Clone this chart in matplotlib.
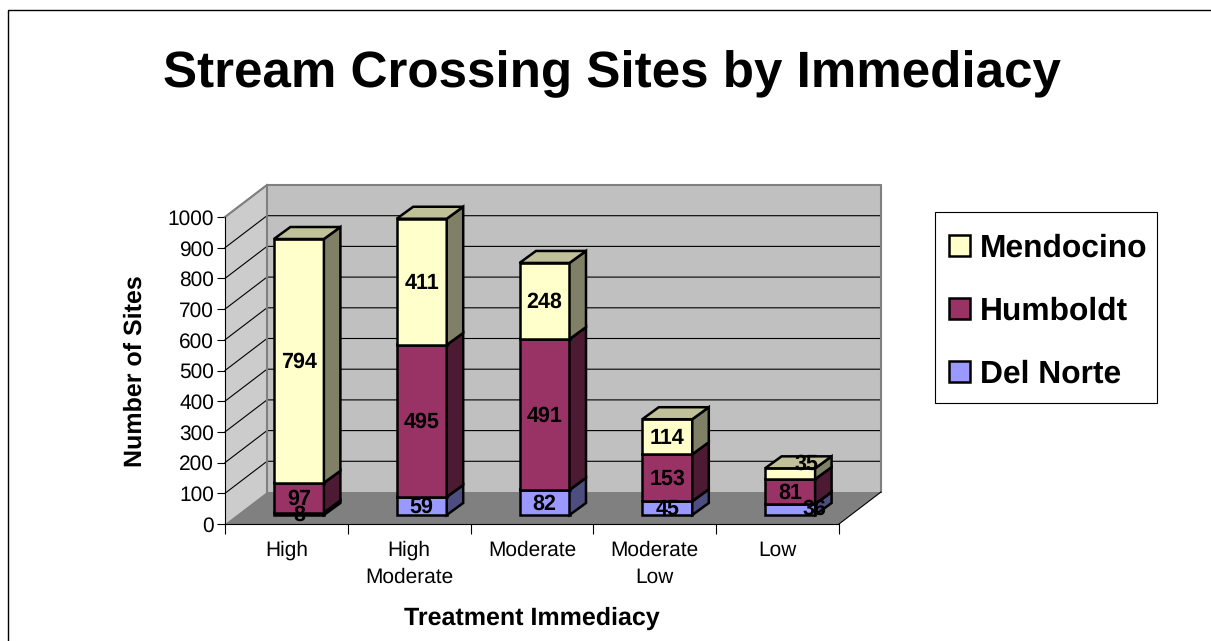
import matplotlib
matplotlib.use("Agg")
import matplotlib.pyplot as plt
from matplotlib.patches import Polygon, Rectangle

plt.rcParams['font.family'] = ['Liberation Sans', 'DejaVu Sans']
plt.rcParams['text.hinting'] = 'no_hinting'

categories = ["High", "High\nModerate", "Moderate", "Moderate\nLow", "Low"]
del_norte = [8, 59, 82, 45, 36]
humboldt = [97, 495, 491, 153, 81]
mendocino = [794, 411, 248, 114, 35]

series = [("Del Norte", del_norte, "#9999FF", "#4D4D80"),
          ("Humboldt", humboldt, "#993366", "#4D1A33"),
          ("Mendocino", mendocino, "#FFFFCC", "#808066")]
top_color = "#C0C099"

# pixel sizes of the fake 3d box, turned into data units below
W, H = 1211, 641
ax_left, ax_right, ax_top, ax_bottom = 225, 839, 217, 524
px_x = (ax_right - ax_left) / 5
px_y = (ax_bottom - ax_top) / 1000
wall_dx, wall_dy = 42 / px_x, 32 / px_y
front_dx, front_dy = 12.5 / px_x, 9 / px_y
depth_dx, depth_dy = 16.5 / px_x, 12 / px_y
bar_w = 50 / px_x
edge = 1.8

fig = plt.figure(figsize=(W / 100, H / 100), dpi=100)
ax = fig.add_axes([ax_left / W, 1 - ax_bottom / H, (ax_right - ax_left) / W, (ax_bottom - ax_top) / H])
ax.set_xlim(0, 5)
ax.set_ylim(0, 1000)
ax.patch.set_visible(False)

# page border, runs off the top right of the picture
fig.add_artist(Rectangle((8 / W, -0.1), 1.1, 1 - 10 / H + 0.1, transform=fig.transFigure,
                         fill=False, edgecolor="black", linewidth=1))


def poly(points, fc, ec, lw, z):
    ax.add_patch(Polygon(points, closed=True, facecolor=fc, edgecolor=ec, linewidth=lw,
                         zorder=z, clip_on=False, joinstyle="miter"))


# walls and floor
poly([(wall_dx, wall_dy), (5 + wall_dx, wall_dy), (5 + wall_dx, 1000 + wall_dy), (wall_dx, 1000 + wall_dy)],
     "#C0C0C0", "none", 0, 1)
poly([(0, 0), (0, 1000), (wall_dx, 1000 + wall_dy), (wall_dx, wall_dy)], "#CCCCCC", "none", 0, 1)
poly([(0, 0), (5, 0), (5 + wall_dx, wall_dy), (wall_dx, wall_dy)], "#808080", "none", 0, 1.5)

yticks = list(range(0, 1001, 100))
for v in yticks[1:]:
    ax.plot([0, wall_dx, 5 + wall_dx], [v, v + wall_dy, v + wall_dy], color="black", lw=0.8,
            zorder=1.2, clip_on=False)
ax.plot([5, 5 + wall_dx], [0, wall_dy], color="black", lw=0.8, zorder=1.6, clip_on=False)
ax.plot([0, wall_dx], [1000, 1000 + wall_dy], color="#808080", lw=1.5, zorder=1.6, clip_on=False)
ax.plot([wall_dx, wall_dx, 5 + wall_dx, 5 + wall_dx], [wall_dy, 1000 + wall_dy, 1000 + wall_dy, wall_dy],
        color="#808080", lw=1.5, zorder=1.3, clip_on=False)

# stacked columns, bottom segment first, bars left to right
handles = []
totals = [0] * len(categories)
for s, (name, vals, color, dark) in enumerate(series):
    xs = [i + 0.5 + front_dx for i in range(len(categories))]
    bottoms = [front_dy + t for t in totals]
    bars = ax.bar(xs, vals, bar_w, bottom=bottoms, color=color, edgecolor="black", linewidth=edge,
                  zorder=3 + s, clip_on=False, label=name)
    handles.append(bars)
    for x, b, v in zip(xs, bottoms, vals):
        l, r = x - bar_w / 2, x + bar_w / 2
        poly([(r, b), (r + depth_dx, b + depth_dy), (r + depth_dx, b + v + depth_dy), (r, b + v)],
             dark, "black", edge, 3 + s)
        poly([(l, b + v), (r, b + v), (r + depth_dx, b + v + depth_dy), (l + depth_dx, b + v + depth_dy)],
             top_color if s == 2 else dark, "black", edge, 3 + s)
    totals = [t + v for t, v in zip(totals, vals)]

# value labels, the two small Low segments are pushed aside like in the original
label_shift = {(0, 4): (24, 3), (2, 4): (16, 12)}
totals = [0] * len(categories)
for s, (name, vals, color, dark) in enumerate(series):
    for i, v in enumerate(vals):
        dx, dy = label_shift.get((s, i), (0, 1))
        ax.annotate(str(v), (i + 0.5 + front_dx, front_dy + totals[i] + v / 2), xytext=(dx * 0.72, dy * 0.72),
                    textcoords="offset points", ha="center", va="center_baseline", fontsize=15.5,
                    fontweight="bold", color="black", zorder=10, annotation_clip=False)
    totals = [t + v for t, v in zip(totals, vals)]

# axes
for side in ["top", "right"]:
    ax.spines[side].set_visible(False)
ax.spines["left"].set_zorder(2)
ax.spines["bottom"].set_zorder(2)
ax.set_yticks(yticks)
ax.tick_params(axis="y", length=6, width=0.8, labelsize=15, pad=2)
ax.set_xticks(range(6))
ax.set_xticklabels([])
ax.tick_params(axis="x", which="major", length=7, width=0.8)
ax.set_xticks([i + 0.5 for i in range(5)], minor=True)
ax.set_xticklabels(categories, minor=True, fontsize=15, linespacing=1.45)
ax.tick_params(axis="x", which="minor", length=0, pad=12)

fig.text(612 / W, 1 - 74 / H, "Stream Crossing Sites by Immediacy", ha="center", va="center",
         fontsize=36.8, fontweight="bold")
fig.text(532 / W, 1 - 618 / H, "Treatment Immediacy", ha="center", va="center", fontsize=18, fontweight="bold")
fig.text(135 / W, 1 - 371 / H, "Number of Sites", ha="center", va="center", rotation=90, fontsize=18,
         fontweight="bold")

# legend box drawn apart, its padding differs between width and height
fig.add_artist(Rectangle((935 / W, 1 - 403 / H), 222 / W, 191 / H, transform=fig.transFigure,
                         facecolor="white", edgecolor="black", linewidth=0.8))
leg = fig.legend(handles[::-1], [s[0] for s in series[::-1]], loc="upper left",
                 bbox_to_anchor=(935 / W, 1 - 219 / H), bbox_transform=fig.transFigure,
                 borderaxespad=0, prop={"weight": "bold", "size": 22.9}, frameon=False,
                 handlelength=0.65, handleheight=0.65,
                 handletextpad=0.3, labelspacing=1.05, borderpad=0.45)

fig.savefig("out.png", dpi=100)
